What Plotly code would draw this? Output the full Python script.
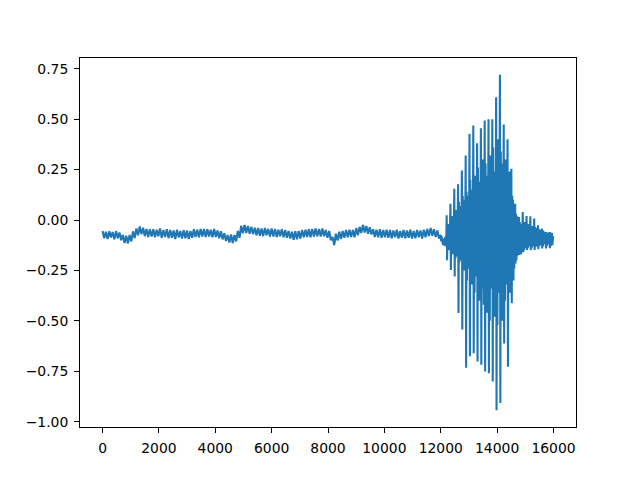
import plotly.graph_objects as go

# ---- data ----
quiet_step = 60          # samples between quiet-part values (0 .. 11940)
quiet_values = [
    -0.054, -0.090, -0.058, -0.094, -0.056, -0.086, -0.060, -0.096, -0.055, -0.090,
    -0.062, -0.100, -0.074, -0.114, -0.078, -0.116, -0.074, -0.106, -0.056, -0.090,
    -0.042, -0.076, -0.032, -0.070, -0.038, -0.080, -0.044, -0.084, -0.046, -0.082,
    -0.046, -0.086, -0.048, -0.080, -0.042, -0.088, -0.050, -0.084, -0.046, -0.090,
    -0.050, -0.088, -0.052, -0.094, -0.048, -0.086, -0.054, -0.092, -0.050, -0.090,
    -0.052, -0.094, -0.054, -0.088, -0.046, -0.084, -0.048, -0.086, -0.044, -0.082,
    -0.044, -0.084, -0.046, -0.082, -0.048, -0.086, -0.044, -0.084, -0.052, -0.090,
    -0.056, -0.096, -0.066, -0.104, -0.074, -0.112, -0.072, -0.114, -0.074, -0.106,
    -0.054, -0.088, -0.028, -0.066, -0.024, -0.064, -0.030, -0.068, -0.034, -0.070,
    -0.038, -0.076, -0.040, -0.078, -0.042, -0.080, -0.040, -0.076, -0.044, -0.082,
    -0.042, -0.082, -0.044, -0.084, -0.048, -0.080, -0.046, -0.086, -0.050, -0.088,
    -0.054, -0.092, -0.058, -0.098, -0.056, -0.096, -0.054, -0.092, -0.050, -0.086,
    -0.048, -0.084, -0.046, -0.086, -0.044, -0.082, -0.042, -0.080, -0.044, -0.082,
    -0.042, -0.080, -0.050, -0.088, -0.054, -0.100, -0.084, -0.124, -0.068, -0.102,
    -0.058, -0.094, -0.054, -0.088, -0.050, -0.086, -0.048, -0.084, -0.050, -0.086,
    -0.040, -0.076, -0.034, -0.064, -0.024, -0.062, -0.030, -0.068, -0.036, -0.072,
    -0.046, -0.084, -0.048, -0.086, -0.046, -0.088, -0.050, -0.086, -0.048, -0.088,
    -0.050, -0.090, -0.052, -0.086, -0.048, -0.092, -0.054, -0.088, -0.050, -0.090,
    -0.052, -0.088, -0.048, -0.092, -0.054, -0.090, -0.050, -0.086, -0.052, -0.092,
    -0.048, -0.086, -0.044, -0.080, -0.040, -0.078, -0.046, -0.084, -0.052, -0.092,
]

loud_start = 12000
loud_step = 15           # samples between loud-part values (12000 .. 15990)
loud_values = [
    -0.074, -0.106, -0.080, -0.114, -0.088, -0.122, -0.092, -0.126, -0.094, -0.124, -0.086, -0.130, -0.082, -0.116,
    0.024, -0.199, -0.03, -0.14, -0.02, -0.15, -0.04, -0.13, -0.06,
    0.080, -0.248, 0.01, -0.16, 0.02, -0.17, -0.01, -0.15, -0.05,
    0.155, -0.280, 0.04, -0.19, 0.05, -0.18, 0.02, -0.17, -0.04,
    0.177, -0.461, 0.09, -0.21, 0.07, -0.20, 0.05, -0.19, -0.03,
    0.246, -0.543, 0.12, -0.22, 0.10, -0.25, 0.08, -0.20, -0.02,
    0.320, -0.733, 0.14, -0.30, 0.12, -0.24, 0.10, -0.22, -0.01,
    0.427, -0.676, 0.20, -0.26, 0.15, -0.32, 0.13, -0.24, 0.00,
    0.468, -0.660, 0.18, -0.36, 0.22, -0.28, 0.14, -0.25, 0.02,
    0.381, -0.701, 0.26, -0.30, 0.19, -0.40, 0.16, -0.28, 0.01,
    0.455, -0.718, 0.20, -0.34, 0.30, -0.32, 0.18, -0.42, 0.03,
    0.493, -0.751, 0.28, -0.33, 0.22, -0.46, 0.20, -0.30, 0.04,
    0.500, -0.760, 0.22, -0.50, 0.32, -0.34, 0.21, -0.31, 0.02,
    0.500, -0.800, 0.36, -0.35, 0.24, -0.48, 0.22, -0.33, 0.05,
    0.608, -0.943, 0.24, -0.52, 0.40, -0.36, 0.23, -0.34, 0.03,
    0.720, -0.907, 0.34, -0.34, 0.22, -0.50, 0.28, -0.32, 0.02,
    0.474, -0.612, 0.20, -0.40, 0.30, -0.32, 0.18, -0.30, 0.00,
    0.400, -0.727, 0.16, -0.30, 0.24, -0.36, 0.14, -0.28, -0.01,
    0.254, -0.413, 0.12, -0.27, 0.10, -0.30, 0.08, -0.24, -0.03,
    0.081, -0.215, 0.03, -0.20, 0.02, -0.18, 0.00, -0.17, -0.05,
    0.015, -0.174, -0.01, -0.16, -0.02, -0.17, -0.03, -0.15, -0.06,
    0.040, -0.160, -0.02, -0.15, -0.01, -0.14, -0.03, -0.13, -0.07,
    0.020, -0.149, -0.03, -0.14, -0.02, -0.13, -0.04, -0.12, -0.07,
    0.019, -0.150, -0.03, -0.14, -0.04, -0.13, -0.03, -0.12, -0.08,
    0.007, -0.149, -0.035, -0.135, -0.04, -0.13, -0.05, -0.12, -0.08,
    -0.026, -0.145, -0.045, -0.13, -0.05, -0.125, -0.06, -0.12, -0.09,
    -0.042, -0.141, -0.05, -0.13, -0.055, -0.12, -0.06, -0.115, -0.09,
    -0.059, -0.141, -0.06, -0.13, -0.065, -0.12, -0.07, -0.12, -0.09,
    -0.060, -0.140, -0.06, -0.13, -0.07, -0.12, -0.065, -0.125, -0.09,
    -0.080,
]

x_tick_values = [0, 2000, 4000, 6000, 8000, 10000, 12000, 14000, 16000]
x_tick_labels = ["0", "2000", "4000", "6000", "8000", "10000", "12000", "14000", "16000"]
y_tick_values = [0.75, 0.50, 0.25, 0.0, -0.25, -0.50, -0.75, -1.00]
y_tick_labels = ["0.75", "0.50", "0.25", "0.00", "\u22120.25", "\u22120.50", "\u22120.75", "\u22121.00"]

# ---- build series ----
sample_index = [i * quiet_step for i in range(len(quiet_values))] + \
               [loud_start + i * loud_step for i in range(len(loud_values))]
amplitude = quiet_values + loud_values

x_min, x_max = 0, 15999
y_min, y_max = min(amplitude), max(amplitude)
x_pad = 0.05 * (x_max - x_min)
y_pad = 0.05 * (y_max - y_min)

fig = go.Figure()
fig.add_trace(go.Scatter(
    x=sample_index, y=amplitude, mode="lines",
    line=dict(color="#1f77b4", width=2.1),
    hoverinfo="skip", showlegend=False,
))

axis_common = dict(
    showline=True, linecolor="black", linewidth=1.1, mirror=True,
    ticks="outside", ticklen=4.9, tickwidth=1.1, tickcolor="black",
    showgrid=False, zeroline=False,
    tickfont=dict(family="DejaVu Sans", size=13.9, color="black"),
    ticklabelstandoff=3,
)

fig.update_layout(
    width=640, height=480,
    margin=dict(l=72, r=72, t=50, b=61, pad=0),
    paper_bgcolor="white", plot_bgcolor="white",
    xaxis=dict(range=[x_min - x_pad, x_max + x_pad],
               tickmode="array", tickvals=x_tick_values, ticktext=x_tick_labels,
               **axis_common),
    yaxis=dict(range=[y_min - y_pad, y_max + y_pad],
               tickmode="array", tickvals=y_tick_values, ticktext=y_tick_labels,
               **axis_common),
)

fig.write_html("out.html")
